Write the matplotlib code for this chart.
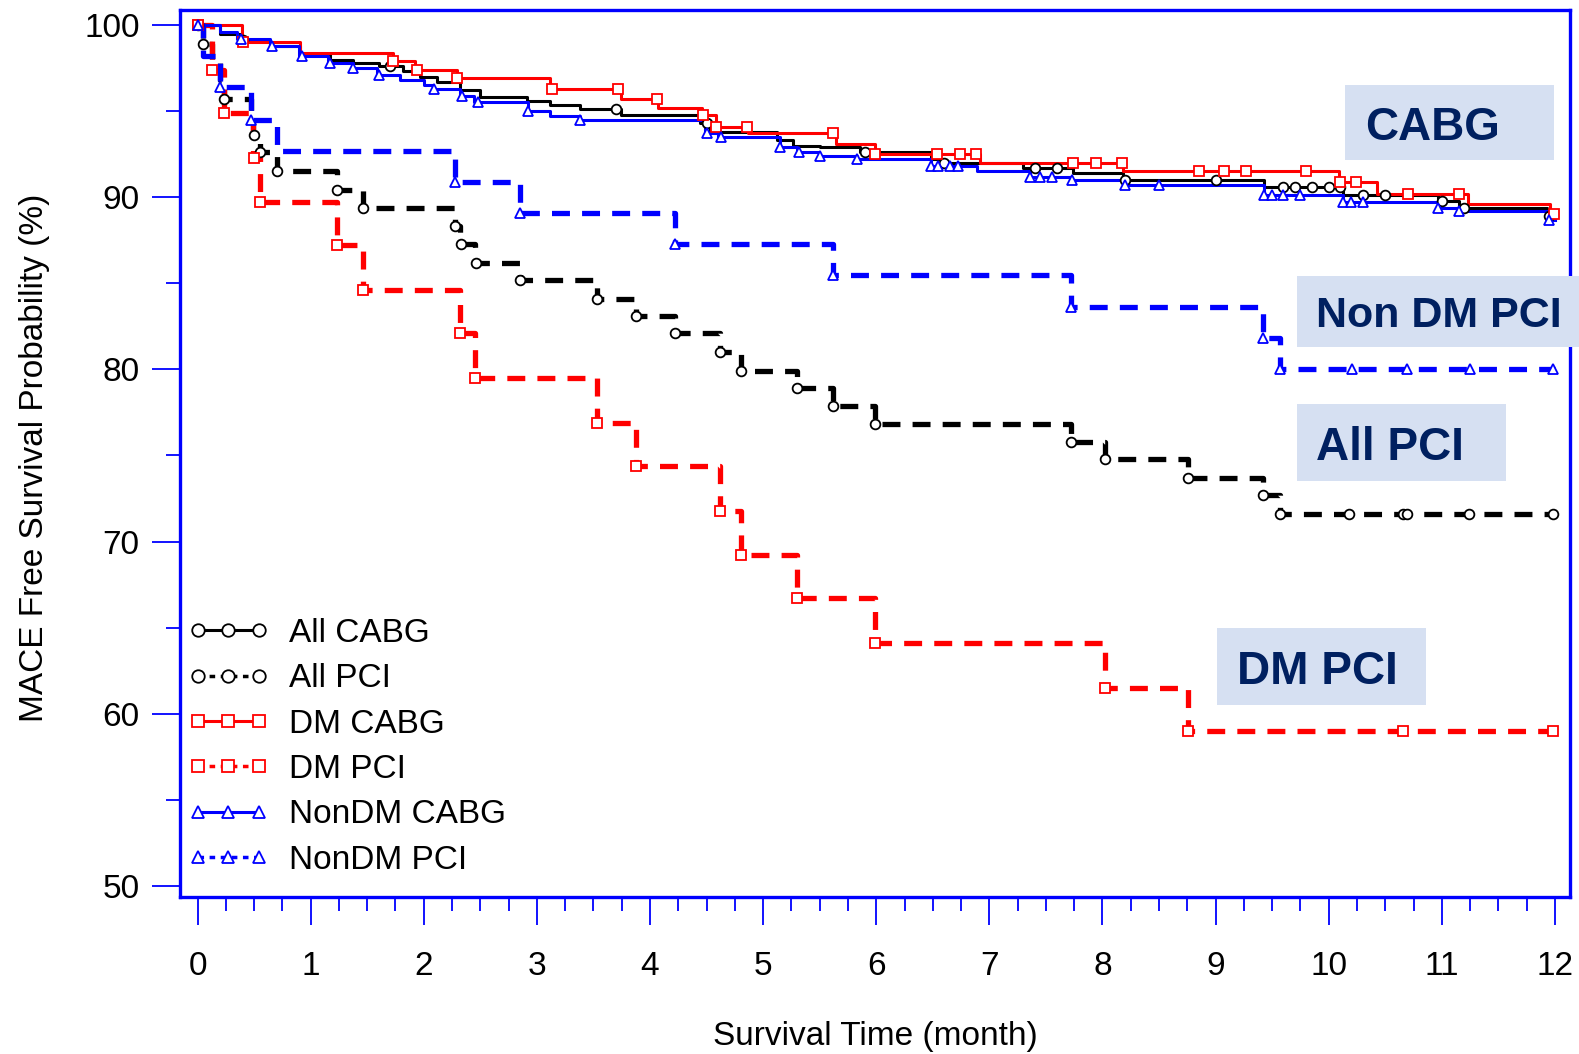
import matplotlib
matplotlib.use("Agg")
import matplotlib.pyplot as plt
import numpy as np
from matplotlib.lines import Line2D
from matplotlib.patches import Rectangle

plt.rcParams['font.family'] = ['Liberation Sans', 'DejaVu Sans']

# ---- data (time in months, survival in %) ----
all_cabg_t = [0, 0.2, 0.39, 0.64, 0.91, 1.17, 1.37, 1.6, 1.82, 1.97, 2.12, 2.32, 2.5, 2.91, 3.12, 3.38,
              3.74, 4.44, 4.53, 5.12, 5.26, 5.5, 5.86, 6.48, 6.6, 7.3, 7.74, 8.18, 9.43, 10.13, 10.97, 11.15, 11.93]
all_cabg_v = [100, 99.5, 99.1, 98.8, 98.3, 97.95, 97.8, 97.6, 97.3, 97.0, 96.7, 96.2, 95.8, 95.6, 95.35, 95.1,
              94.8, 94.3, 93.8, 93.3, 93.0, 92.9, 92.6, 92.2, 92.0, 91.7, 91.4, 91.0, 90.6, 90.1, 89.8, 89.4, 88.9]
all_cabg_c = [0, 0.4, 1.7, 3.7, 4.5, 5.9, 6.6, 7.4, 7.6, 8.2, 9.0, 9.6, 9.7, 9.85, 10.0, 10.1, 10.3,
              10.5, 11.0, 11.2, 11.95]

all_pci_t = [0, 0.05, 0.13, 0.20, 0.23, 0.47, 0.49, 0.55, 0.70, 1.23, 1.46, 2.28, 2.32, 2.45, 2.85, 3.53,
             3.88, 4.22, 4.62, 4.80, 5.30, 5.62, 5.99, 7.72, 8.02, 8.76, 9.42, 9.57]
all_pci_v = [100, 98.9, 97.9, 96.8, 95.7, 94.7, 93.6, 92.6, 91.5, 90.4, 89.4, 88.3, 87.3, 86.2, 85.2, 84.1,
             83.1, 82.1, 81.0, 79.9, 78.9, 77.9, 76.8, 75.8, 74.8, 73.7, 72.7, 71.6]
all_pci_c = [0.05, 0.23, 0.5, 0.55, 0.70, 1.23, 1.46, 2.28, 2.33, 2.46, 2.85, 3.53, 3.88, 4.22, 4.62, 4.80,
             5.30, 5.62, 5.99, 7.72, 8.02, 8.76, 9.42, 9.57, 10.18, 10.66, 10.69, 11.24, 11.98]

dm_cabg_t = [0, 0.39, 0.91, 1.73, 1.92, 2.29, 3.12, 3.74, 4.07, 4.46, 4.58, 4.87, 5.64, 5.99, 6.92,
             8.18, 10.09, 10.43, 11.23, 11.96]
dm_cabg_v = [100, 99.0, 98.4, 97.9, 97.4, 96.9, 96.3, 95.7, 95.2, 94.8, 94.1, 93.7, 93.1, 92.5, 92.0,
             91.5, 90.9, 90.2, 89.6, 89.0]
dm_cabg_c = [0, 0.4, 1.73, 1.94, 2.29, 3.13, 3.72, 4.06, 4.47, 4.58, 4.86, 5.62, 5.99, 6.54, 6.74, 6.88,
             7.74, 7.94, 8.17, 8.85, 9.07, 9.27, 9.80, 10.1, 10.24, 10.70, 11.15, 11.99]

dm_pci_t = [0, 0.13, 0.23, 0.49, 0.55, 1.23, 1.46, 2.32, 2.45, 3.53, 3.88, 4.62, 4.80, 5.30, 5.99, 8.02, 8.76]
dm_pci_v = [100, 97.4, 94.9, 92.3, 89.7, 87.2, 84.6, 82.1, 79.5, 76.9, 74.4, 71.8, 69.2, 66.7, 64.1, 61.5, 59.0]
dm_pci_c = [0, 0.13, 0.23, 0.5, 0.55, 1.23, 1.46, 2.32, 2.45, 3.53, 3.88, 4.62, 4.80, 5.30, 5.99, 8.02,
            8.76, 10.66, 11.98]

nondm_cabg_t = [0, 0.2, 0.35, 0.64, 0.9, 1.15, 1.37, 1.59, 1.79, 2.0, 2.08, 2.32, 2.44, 2.92, 3.12, 3.38,
                4.49, 4.60, 5.15, 5.30, 5.49, 5.83, 6.48, 6.89, 7.36, 7.71, 8.19, 9.43, 10.13, 10.97, 11.13, 11.93]
nondm_cabg_v = [100, 99.6, 99.2, 98.8, 98.2, 97.8, 97.5, 97.1, 96.8, 96.5, 96.3, 95.9, 95.5, 95.0, 94.7, 94.5,
                93.7, 93.5, 92.9, 92.6, 92.4, 92.2, 91.8, 91.5, 91.2, 91.0, 90.7, 90.1, 89.7, 89.4, 89.2, 88.7]
nondm_cabg_c = [0, 0.38, 0.66, 0.92, 1.17, 1.37, 1.6, 2.09, 2.34, 2.48, 2.92, 3.38, 4.5, 4.63, 5.15, 5.32,
                5.5, 5.83, 6.48, 6.55, 6.65, 6.72, 7.36, 7.45, 7.55, 7.73, 8.2, 8.5, 9.43, 9.5, 9.6, 9.75,
                10.13, 10.2, 10.3, 10.97, 11.15, 11.95]

nondm_pci_t = [0, 0.05, 0.2, 0.47, 0.70, 2.28, 2.85, 4.22, 5.62, 7.72, 9.42, 9.57]
nondm_pci_v = [100, 98.2, 96.4, 94.5, 92.7, 90.9, 89.1, 87.3, 85.5, 83.6, 81.8, 80.0]
nondm_pci_c = [0, 0.2, 0.47, 2.28, 2.85, 4.22, 5.62, 7.72, 9.42, 9.57, 10.21, 10.69, 11.25, 11.98]

t_end = 12.0

labels = ['All CABG', 'All PCI', 'DM CABG', 'DM PCI', 'NonDM CABG', 'NonDM PCI']
series = [(all_cabg_t, all_cabg_v, all_cabg_c), (all_pci_t, all_pci_v, all_pci_c),
          (dm_cabg_t, dm_cabg_v, dm_cabg_c), (dm_pci_t, dm_pci_v, dm_pci_c),
          (nondm_cabg_t, nondm_cabg_v, nondm_cabg_c), (nondm_pci_t, nondm_pci_v, nondm_pci_c)]
colors = ['black', 'black', '#FF0000', '#FF0000', '#0000FF', '#0000FF']
markers = ['o', 'o', 's', 's', '^', '^']
dashed = [False, True, False, True, False, True]

annotations = ['CABG', 'Non DM PCI', 'All PCI', 'DM PCI']

W, H = 1579, 1054
fig = plt.figure(figsize=(W / 100, H / 100), dpi=100)
ax = fig.add_axes([180 / W, 1 - 897 / H, (1570 - 180) / W, (897 - 10) / H])

draw_order = [1, 3, 5, 0, 2, 4]
for i in draw_order:
    t, v, c = series[i]
    tt = list(t) + [t_end]
    vv = list(v) + [v[-1]]
    cy = np.array(v)[np.searchsorted(t, c, side='right') - 1]
    if dashed[i]:
        ax.step(tt, vv, where='post', color=colors[i], lw=3.8, dashes=(3.4, 2.3), zorder=2)
    else:
        ax.step(tt, vv, where='post', color=colors[i], lw=2.2, zorder=3)
    ax.plot(c, cy, ls='none', marker=markers[i], ms=7, mfc='white', mec=colors[i], mew=1.3, zorder=4)

ax.set_xlim(-0.155, 12.133)
ax.set_ylim(49.36, 100.87)
ax.set_xticks(range(0, 13))
ax.set_xticks(np.arange(0, 12.01, 0.25), minor=True)
ax.set_yticks(range(50, 101, 10))
ax.set_yticks(range(55, 100, 10), minor=True)
for s in ax.spines.values():
    s.set_color('#0000FF')
    s.set_linewidth(2.4)
ax.tick_params(which='major', length=20, width=1.3, color='#0000FF', labelsize=24, direction='out')
ax.tick_params(which='minor', length=10, width=1.3, color='#0000FF', direction='out')
ax.tick_params(axis='x', which='major', pad=19)
ax.tick_params(axis='y', which='major', pad=9)

fig.text(35 / W, 1 - 458 / H, 'MACE Free Survival Probability (%)', rotation=90,
         ha='center', va='center', fontsize=24)
fig.text(875 / W, 1 - 1036 / H, 'Survival Time (month)', ha='center', va='center', fontsize=24)

handles = []
for i in range(6):
    if dashed[i]:
        h = Line2D([], [], color=colors[i], lw=2.5, dashes=(1.6, 1.6), marker=markers[i], ms=9,
                   mfc='white', mec=colors[i], mew=1.3)
    else:
        h = Line2D([], [], color=colors[i], lw=2.2, marker=markers[i], ms=9,
                   mfc='white', mec=colors[i], mew=1.3)
    handles.append(h)
ax.legend(handles, labels, loc='upper left', bbox_to_anchor=(188 / W, 1 - 618 / H),
          bbox_transform=fig.transFigure, frameon=False, fontsize=24, numpoints=3,
          handlelength=2.42, handletextpad=0.6, labelspacing=0.43, borderpad=0, borderaxespad=0)

# label boxes (pixel extents in the figure)
box_x0 = [1345, 1297, 1297, 1217]
box_x1 = [1554, 1579, 1506, 1426]
box_y0 = [85, 276, 404, 628]
box_y1 = [160, 347, 481, 705]
text_x = [1365, 1316, 1316, 1237]
text_size = [33, 31, 33, 33]
for k, name in enumerate(annotations):
    fig.add_artist(Rectangle((box_x0[k] / W, 1 - box_y1[k] / H), (box_x1[k] - box_x0[k]) / W,
                             (box_y1[k] - box_y0[k]) / H, transform=fig.transFigure,
                             facecolor='#D6E0F2', edgecolor='none', zorder=5))
    fig.text(text_x[k] / W, 1 - (box_y0[k] + box_y1[k]) / 2 / H, name, ha='left', va='center_baseline',
             fontsize=text_size[k], fontweight='bold', color='#002060', zorder=6)

fig.savefig('out.png', dpi=100)
